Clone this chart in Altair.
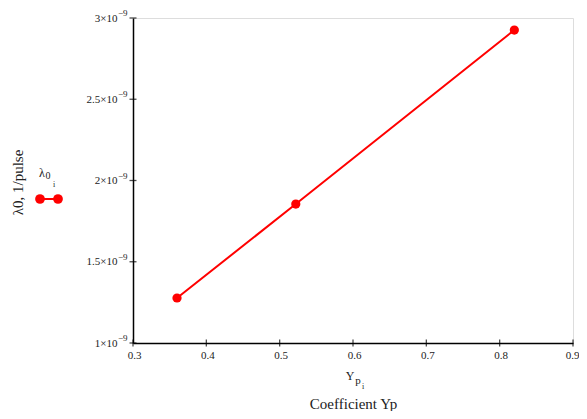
import altair as alt
import pandas as pd

# data
yp = [0.36, 0.522, 0.82]
lam0 = [1.277e-9, 1.855e-9, 2.926e-9]
x_ticks = [0.3, 0.4, 0.5, 0.6, 0.7, 0.8, 0.9]
y_ticks = [1.0e-9, 1.5e-9, 2.0e-9, 2.5e-9, 3.0e-9]

RED = "#ff0000"
FONT = "Liberation Serif"
W, H = 440, 325

df = pd.DataFrame({"yp": yp, "lam": lam0})
xs = alt.Scale(domain=[0.3, 0.9], nice=False, zero=False)
ys = alt.Scale(domain=[1e-9, 3e-9], nice=False, zero=False)

xaxis = alt.Axis(values=x_ticks, format=".1f", grid=False, ticks=False,
                 labelFlush=False, labelOverlap=False,
                 labelAlign={"condition": {"test": "datum.value >= 0.89", "value": "right"}, "value": "center"},
                 labelOffset={"condition": {"test": "datum.value >= 0.89", "value": 6}, "value": 1},
                 domainColor="black", domainWidth=1.5, labelFont=FONT,
                 labelFontSize=11, labelColor="#222", labelPadding=6,
                 title="Coefficient Yp", titleFont=FONT, titleFontSize=15,
                 titleFontWeight="normal", titleColor="#222",
                 titleY=65, titleBaseline="alphabetic")
yaxis = alt.Axis(values=y_ticks, grid=False, ticks=False,
                 labelFlush=False, labelOverlap=False,
                 labelExpr="format(datum.value*1e9, '.1~f') + '×10'",
                 domainColor="black", domainWidth=1.5, labelFont=FONT,
                 labelFontSize=11, labelColor="#222", labelPadding=16,
                 title="λ0, 1/pulse", titleFont=FONT, titleFontSize=15,
                 titleFontWeight="normal", titleColor="#222",
                 titleX=-116, titleY=164, titleBaseline="middle")

base = alt.Chart(df)
line = base.mark_line(color=RED, strokeWidth=2).encode(
    x=alt.X("yp:Q", scale=xs, axis=xaxis),
    y=alt.Y("lam:Q", scale=ys, axis=yaxis),
)
pts = base.mark_circle(color=RED, size=85, opacity=1).encode(
    x=alt.X("yp:Q", scale=xs), y=alt.Y("lam:Q", scale=ys)
)

xt = alt.Chart(pd.DataFrame({"v": x_ticks})).mark_tick(
    color="black", size=7, thickness=1.3).encode(
    x=alt.X("v:Q", scale=xs), y=alt.value(H))
yt_df = pd.DataFrame({"v": y_ticks, "s": ["−9"] * len(y_ticks)})
yt = alt.Chart(yt_df).mark_tick(
    color="black", size=7, thickness=1.3).encode(
    y=alt.Y("v:Q", scale=ys), x=alt.value(0))
# superscript exponent of the y tick labels
yexp = alt.Chart(yt_df).mark_text(
    font=FONT, fontSize=9, color="#222", align="left", baseline="middle", dy=-5
).encode(y=alt.Y("v:Q", scale=ys), x=alt.value(-15), text="s:N")

def txt(s, x, y, size):
    return alt.Chart(pd.DataFrame({"t": [s]})).mark_text(
        font=FONT, fontSize=size, color="#222", align="center", baseline="middle"
    ).encode(text="t:N", x=alt.value(x), y=alt.value(y))

# x-axis variable label Y_{p_i}
lab = [txt("Y", 217, 358, 12), txt("p", 225, 363, 11), txt("i", 230, 369, 8)]

# legend
leg_df = pd.DataFrame({"a": [0]})
leg_line = alt.Chart(leg_df).mark_rule(color=RED, strokeWidth=2).encode(
    x=alt.value(-93), x2=alt.value(-75), y=alt.value(181))
leg_p1 = alt.Chart(leg_df).mark_circle(color=RED, size=95, opacity=1).encode(
    x=alt.value(-93), y=alt.value(181))
leg_p2 = alt.Chart(leg_df).mark_circle(color=RED, size=95, opacity=1).encode(
    x=alt.value(-75), y=alt.value(181))
leg_txt = [txt("λ", -91, 155, 12), txt("0", -85, 158, 10), txt("i", -79, 167, 8)]

chart = alt.layer(line, pts, xt, yt, yexp, *lab, leg_line, leg_p1, leg_p2, *leg_txt).properties(
    width=W, height=H,
    autosize=alt.AutoSizeParams(type="none"),
    padding={"left": 125, "top": 10, "right": 6, "bottom": 68},
).configure_view(stroke=None).configure(background="white")

chart.save("out.html", embed_options={"renderer": "svg", "actions": False})
